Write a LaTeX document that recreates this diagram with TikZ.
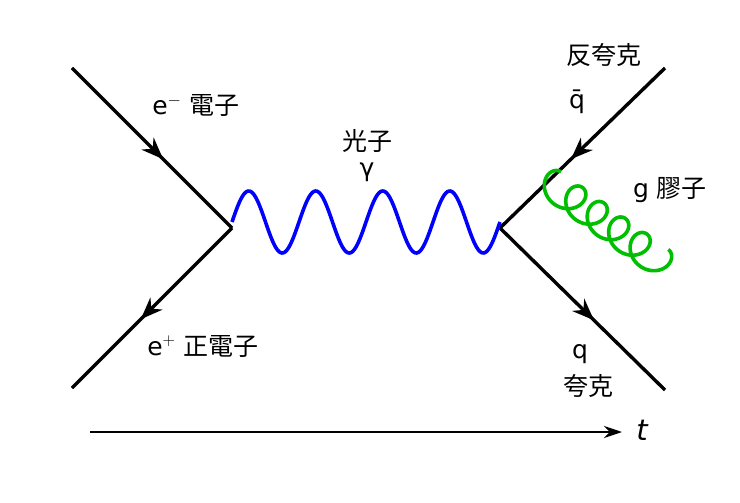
\documentclass[tikz,border=0pt]{standalone}
\usepackage{fontspec}
\setmainfont{DejaVu Sans}
\newfontfamily\cjk{Noto Sans CJK TC}
\usetikzlibrary{decorations.markings,arrows.meta}
\begin{document}
\begin{tikzpicture}[x=1pt,y=-1pt,
  fermion/.style={line width=3.4pt,postaction={decorate},decoration={markings,mark=at position #1 with {\arrow{Stealth[length=22pt,width=17pt]}}}},
  lbl/.style={font=\fontsize{25}{30}\selectfont}]
\useasboundingbox (0,0) rectangle (740,503);
\coordinate (a1) at (72,68);
\coordinate (a2) at (72,388);
\coordinate (v1) at (232,228);
\coordinate (v2) at (500,228);
\coordinate (b1) at (665,68);
\coordinate (b2) at (665,390);
\draw[fermion=0.57] (a1) -- (v1);
\draw[fermion=0.57] (v1) -- (a2);
\draw[fermion=0.57] (b1) -- (v2);
\draw[fermion=0.57] (v2) -- (b2);
\draw[blue,line width=3.6pt,domain=0:1440,samples=200] plot ({232+\x/360*67},{222-31*sin(\x)});
\coordinate (g1) at (561,172);
\draw[green!75!black,line width=3.6pt,domain=0:1800,samples=500,smooth]
  plot ({561+0.811*(0.0735*\x-15*sin(\x))-0.586*(15*(1-cos(\x)))},
        {172+0.586*(0.0735*\x-15*sin(\x))+0.811*(15*(1-cos(\x)))});
\coordinate (t1) at (90,432);
\coordinate (t2) at (622,432);
\draw[line width=1.8pt,-{Stealth[length=18pt,width=12pt]}] (t1) -- (t2);
\node[font=\fontsize{29}{34}\selectfont\itshape] (t) at (642,430) {t};
\node[lbl] (em) at (196,106) {e$^-$ {\cjk 電子}};
\node[lbl] (ph) at (367,141) {\cjk 光子};
\node[lbl] (ga) at (367,172) {γ};
\node[lbl] (aq) at (604,55) {\cjk 反夸克};
\node[lbl] (qb) at (577,102) {q̄};
\node[lbl] (gl) at (670,190) {g {\cjk 膠子}};
\node[lbl] (ep) at (203,346) {e$^+$ {\cjk 正電子}};
\node[lbl] (q) at (580,354) {q};
\node[lbl] (qk) at (588,386) {\cjk 夸克};
\end{tikzpicture}
\end{document}
